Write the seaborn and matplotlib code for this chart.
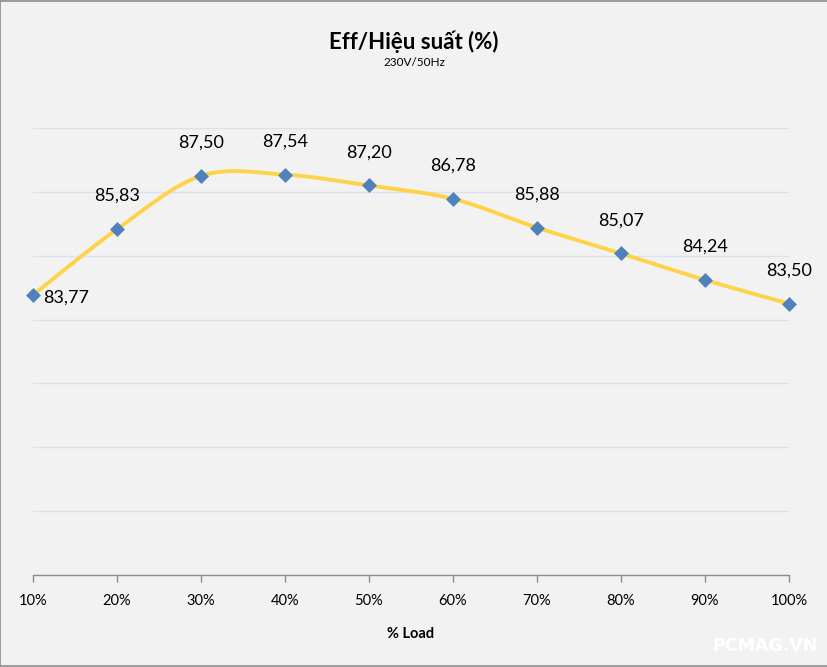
import matplotlib
matplotlib.use("Agg")
import matplotlib.pyplot as plt
from matplotlib.path import Path
from matplotlib.patches import PathPatch, Rectangle
import numpy as np
import pandas as pd
import seaborn as sns

# ---- data ----
loads = ["10%", "20%", "30%", "40%", "50%", "60%", "70%", "80%", "90%", "100%"]
efficiency = [83.77, 85.83, 87.50, 87.54, 87.20, 86.78, 85.88, 85.07, 84.24, 83.50]
title = "Eff/Hiệu suất (%)"
subtitle = "230V/50Hz"
xlabel = "% Load"
watermark = "PCMAG.VN"

sns.set_theme(style="white")
plt.rcParams["font.family"] = ["Lato", "Open Sans", "DejaVu Sans"]

BG = "#F2F2F2"
LINE = "#FFD347"
MARK = "#4F81BD"
GRID = "#D9E2F0"
AXIS = "#8C8C8C"

fig = plt.figure(figsize=(8.28, 6.67), dpi=100, facecolor=BG)
ax = fig.add_axes([33 / 828, 92 / 667, (789 - 33) / 828, (575 - 128) / 667])
ax.set_facecolor(BG)

df = pd.DataFrame({"load": loads, "eff": efficiency})
x = np.arange(len(loads), dtype=float)
y = np.asarray(efficiency, dtype=float)

# smoothed line (Catmull-Rom as cubic Bezier segments, like Excel's smoothed line)
verts = [(x[0], y[0])]
codes = [Path.MOVETO]
n = len(x)
for i in range(n - 1):
    p0 = np.array([x[max(i - 1, 0)], y[max(i - 1, 0)]])
    p1 = np.array([x[i], y[i]])
    p2 = np.array([x[i + 1], y[i + 1]])
    p3 = np.array([x[min(i + 2, n - 1)], y[min(i + 2, n - 1)]])
    c1 = p1 + (p2 - p0) / 6.0
    c2 = p2 - (p3 - p1) / 6.0
    verts += [tuple(c1), tuple(c2), tuple(p2)]
    codes += [Path.CURVE4] * 3
ax.add_patch(PathPatch(Path(verts, codes), facecolor="none", edgecolor=LINE,
                       lw=2.8, capstyle="round", joinstyle="round", zorder=2,
                       clip_on=False))

sns.scatterplot(data=df, x="load", y="eff", marker="D", s=58, color=MARK,
                edgecolor=MARK, linewidth=0, ax=ax, zorder=3, legend=False,
                clip_on=False)

# data labels
for i, (xi, yi) in enumerate(zip(x, y)):
    lab = f"{yi:.2f}".replace(".", ",")
    if i == 0:
        ax.annotate(lab, (xi, yi), xytext=(7, -2), textcoords="offset points",
                    ha="left", va="center", fontsize=13, color="#000000")
    else:
        ax.annotate(lab, (xi, yi), xytext=(0, 24), textcoords="offset points",
                    ha="center", va="center", fontsize=13, color="#000000")

ax.set_xlim(0, len(loads) - 1)
ax.set_ylim(75, 89)
ax.set_yticks(np.arange(75, 90, 2))
ax.set_yticklabels([])
ax.tick_params(axis="y", length=0)
ax.grid(axis="y", color=GRID, lw=1)
ax.grid(axis="x", visible=False)
ax.set_xticks(x)
ax.set_xticklabels(loads, fontsize=10.5)
ax.tick_params(axis="x", direction="out", length=5, width=1, color=AXIS,
               pad=9, labelcolor="#000000", bottom=True)
for s in ["top", "right", "left"]:
    ax.spines[s].set_visible(False)
ax.spines["bottom"].set_color(AXIS)
ax.spines["bottom"].set_linewidth(1)
ax.set_ylabel("")
ax.set_xlabel(xlabel, fontsize=10.5, fontweight="bold", labelpad=13, color="#000000")

fig.text(414 / 828, 1 - 42 / 667, title, ha="center", va="center",
         fontsize=16, fontweight="bold", color="#000000")
fig.text(414 / 828, 1 - 63 / 667, subtitle, ha="center", va="center",
         fontsize=8.5, color="#000000")
fig.text(765 / 828, 1 - 646 / 667, watermark, ha="center", va="center",
         fontsize=12.5, fontweight="bold", color="#FFFFFF",
         family=["DejaVu Sans"])

fig.patches.append(Rectangle((0.0006, 0.0008), 0.9988, 0.9984, transform=fig.transFigure,
                             fill=False, edgecolor=AXIS, lw=1.2))

fig.savefig("out.png", dpi=100, facecolor=BG)
